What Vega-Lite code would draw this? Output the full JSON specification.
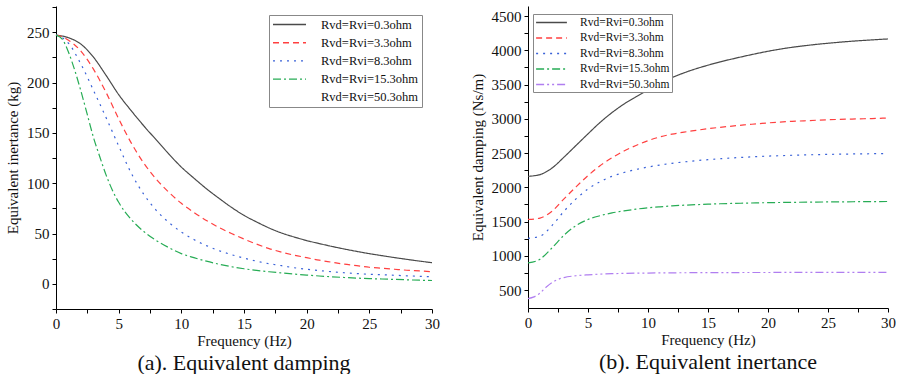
{
  "$schema": "https://vega.github.io/schema/vega-lite/v6.json",
  "padding": {"left": 5, "top": 6, "right": 0, "bottom": 0},
  "background": "white",
  "config": {
    "view": {"stroke": null},
    "font": "Times New Roman",
    "title": {"font": "Times New Roman", "fontWeight": "normal", "color": "#111"}
  },
  "spacing": 30,
  "resolve": {
    "scale": {"x": "independent", "y": "independent", "color": "independent", "strokeDash": "independent"},
    "legend": {"color": "independent", "strokeDash": "independent"}
  },
  "datasets": {
    "inertance": [
      {"f": 0, "v": 247, "s": "Rvd=Rvi=0.3ohm"},
      {"f": 1, "v": 244.5, "s": "Rvd=Rvi=0.3ohm"},
      {"f": 2, "v": 238, "s": "Rvd=Rvi=0.3ohm"},
      {"f": 3, "v": 225, "s": "Rvd=Rvi=0.3ohm"},
      {"f": 4, "v": 207, "s": "Rvd=Rvi=0.3ohm"},
      {"f": 5, "v": 188, "s": "Rvd=Rvi=0.3ohm"},
      {"f": 6, "v": 172, "s": "Rvd=Rvi=0.3ohm"},
      {"f": 7, "v": 157, "s": "Rvd=Rvi=0.3ohm"},
      {"f": 8, "v": 143, "s": "Rvd=Rvi=0.3ohm"},
      {"f": 9, "v": 129, "s": "Rvd=Rvi=0.3ohm"},
      {"f": 10, "v": 116, "s": "Rvd=Rvi=0.3ohm"},
      {"f": 11, "v": 105, "s": "Rvd=Rvi=0.3ohm"},
      {"f": 12, "v": 94.5, "s": "Rvd=Rvi=0.3ohm"},
      {"f": 13, "v": 85, "s": "Rvd=Rvi=0.3ohm"},
      {"f": 14, "v": 76, "s": "Rvd=Rvi=0.3ohm"},
      {"f": 15, "v": 68, "s": "Rvd=Rvi=0.3ohm"},
      {"f": 16, "v": 61.5, "s": "Rvd=Rvi=0.3ohm"},
      {"f": 17, "v": 55.5, "s": "Rvd=Rvi=0.3ohm"},
      {"f": 18, "v": 50.5, "s": "Rvd=Rvi=0.3ohm"},
      {"f": 19, "v": 46.5, "s": "Rvd=Rvi=0.3ohm"},
      {"f": 20, "v": 43, "s": "Rvd=Rvi=0.3ohm"},
      {"f": 21, "v": 40, "s": "Rvd=Rvi=0.3ohm"},
      {"f": 22, "v": 37.2, "s": "Rvd=Rvi=0.3ohm"},
      {"f": 23, "v": 34.6, "s": "Rvd=Rvi=0.3ohm"},
      {"f": 24, "v": 32.2, "s": "Rvd=Rvi=0.3ohm"},
      {"f": 25, "v": 30, "s": "Rvd=Rvi=0.3ohm"},
      {"f": 26, "v": 28, "s": "Rvd=Rvi=0.3ohm"},
      {"f": 27, "v": 26.1, "s": "Rvd=Rvi=0.3ohm"},
      {"f": 28, "v": 24.3, "s": "Rvd=Rvi=0.3ohm"},
      {"f": 29, "v": 22.6, "s": "Rvd=Rvi=0.3ohm"},
      {"f": 30, "v": 21, "s": "Rvd=Rvi=0.3ohm"},

      {"f": 0, "v": 247, "s": "Rvd=Rvi=3.3ohm"},
      {"f": 0.5, "v": 245.5, "s": "Rvd=Rvi=3.3ohm"},
      {"f": 1, "v": 242, "s": "Rvd=Rvi=3.3ohm"},
      {"f": 2, "v": 231, "s": "Rvd=Rvi=3.3ohm"},
      {"f": 3, "v": 213, "s": "Rvd=Rvi=3.3ohm"},
      {"f": 4, "v": 190, "s": "Rvd=Rvi=3.3ohm"},
      {"f": 5, "v": 164, "s": "Rvd=Rvi=3.3ohm"},
      {"f": 6, "v": 140, "s": "Rvd=Rvi=3.3ohm"},
      {"f": 7, "v": 120, "s": "Rvd=Rvi=3.3ohm"},
      {"f": 8, "v": 104, "s": "Rvd=Rvi=3.3ohm"},
      {"f": 9, "v": 91, "s": "Rvd=Rvi=3.3ohm"},
      {"f": 10, "v": 80, "s": "Rvd=Rvi=3.3ohm"},
      {"f": 11, "v": 71, "s": "Rvd=Rvi=3.3ohm"},
      {"f": 12, "v": 63, "s": "Rvd=Rvi=3.3ohm"},
      {"f": 13, "v": 56, "s": "Rvd=Rvi=3.3ohm"},
      {"f": 14, "v": 50, "s": "Rvd=Rvi=3.3ohm"},
      {"f": 15, "v": 44.5, "s": "Rvd=Rvi=3.3ohm"},
      {"f": 16, "v": 39.5, "s": "Rvd=Rvi=3.3ohm"},
      {"f": 17, "v": 35, "s": "Rvd=Rvi=3.3ohm"},
      {"f": 18, "v": 31.5, "s": "Rvd=Rvi=3.3ohm"},
      {"f": 19, "v": 28.5, "s": "Rvd=Rvi=3.3ohm"},
      {"f": 20, "v": 26, "s": "Rvd=Rvi=3.3ohm"},
      {"f": 21, "v": 23.5, "s": "Rvd=Rvi=3.3ohm"},
      {"f": 22, "v": 21.5, "s": "Rvd=Rvi=3.3ohm"},
      {"f": 23, "v": 19.5, "s": "Rvd=Rvi=3.3ohm"},
      {"f": 24, "v": 18, "s": "Rvd=Rvi=3.3ohm"},
      {"f": 25, "v": 16.5, "s": "Rvd=Rvi=3.3ohm"},
      {"f": 26, "v": 15.5, "s": "Rvd=Rvi=3.3ohm"},
      {"f": 27, "v": 14.5, "s": "Rvd=Rvi=3.3ohm"},
      {"f": 28, "v": 13.5, "s": "Rvd=Rvi=3.3ohm"},
      {"f": 29, "v": 12.8, "s": "Rvd=Rvi=3.3ohm"},
      {"f": 30, "v": 12, "s": "Rvd=Rvi=3.3ohm"},

      {"f": 0, "v": 247, "s": "Rvd=Rvi=8.3ohm"},
      {"f": 0.5, "v": 244.5, "s": "Rvd=Rvi=8.3ohm"},
      {"f": 1, "v": 239, "s": "Rvd=Rvi=8.3ohm"},
      {"f": 2, "v": 218, "s": "Rvd=Rvi=8.3ohm"},
      {"f": 3, "v": 192, "s": "Rvd=Rvi=8.3ohm"},
      {"f": 4, "v": 165, "s": "Rvd=Rvi=8.3ohm"},
      {"f": 5, "v": 137, "s": "Rvd=Rvi=8.3ohm"},
      {"f": 6, "v": 110, "s": "Rvd=Rvi=8.3ohm"},
      {"f": 7, "v": 89, "s": "Rvd=Rvi=8.3ohm"},
      {"f": 8, "v": 73, "s": "Rvd=Rvi=8.3ohm"},
      {"f": 9, "v": 61, "s": "Rvd=Rvi=8.3ohm"},
      {"f": 10, "v": 51.5, "s": "Rvd=Rvi=8.3ohm"},
      {"f": 11, "v": 44, "s": "Rvd=Rvi=8.3ohm"},
      {"f": 12, "v": 38, "s": "Rvd=Rvi=8.3ohm"},
      {"f": 13, "v": 33, "s": "Rvd=Rvi=8.3ohm"},
      {"f": 14, "v": 29, "s": "Rvd=Rvi=8.3ohm"},
      {"f": 15, "v": 25.5, "s": "Rvd=Rvi=8.3ohm"},
      {"f": 16, "v": 22.5, "s": "Rvd=Rvi=8.3ohm"},
      {"f": 17, "v": 20, "s": "Rvd=Rvi=8.3ohm"},
      {"f": 18, "v": 18, "s": "Rvd=Rvi=8.3ohm"},
      {"f": 19, "v": 16, "s": "Rvd=Rvi=8.3ohm"},
      {"f": 20, "v": 14.5, "s": "Rvd=Rvi=8.3ohm"},
      {"f": 21, "v": 13.2, "s": "Rvd=Rvi=8.3ohm"},
      {"f": 22, "v": 12, "s": "Rvd=Rvi=8.3ohm"},
      {"f": 23, "v": 11, "s": "Rvd=Rvi=8.3ohm"},
      {"f": 24, "v": 10.2, "s": "Rvd=Rvi=8.3ohm"},
      {"f": 25, "v": 9.5, "s": "Rvd=Rvi=8.3ohm"},
      {"f": 26, "v": 9, "s": "Rvd=Rvi=8.3ohm"},
      {"f": 27, "v": 8.5, "s": "Rvd=Rvi=8.3ohm"},
      {"f": 28, "v": 8, "s": "Rvd=Rvi=8.3ohm"},
      {"f": 29, "v": 7.5, "s": "Rvd=Rvi=8.3ohm"},
      {"f": 30, "v": 7, "s": "Rvd=Rvi=8.3ohm"},

      {"f": 0, "v": 247, "s": "Rvd=Rvi=15.3ohm"},
      {"f": 0.5, "v": 243, "s": "Rvd=Rvi=15.3ohm"},
      {"f": 1, "v": 230, "s": "Rvd=Rvi=15.3ohm"},
      {"f": 1.5, "v": 212, "s": "Rvd=Rvi=15.3ohm"},
      {"f": 2, "v": 191, "s": "Rvd=Rvi=15.3ohm"},
      {"f": 2.5, "v": 168, "s": "Rvd=Rvi=15.3ohm"},
      {"f": 3, "v": 145, "s": "Rvd=Rvi=15.3ohm"},
      {"f": 3.5, "v": 126, "s": "Rvd=Rvi=15.3ohm"},
      {"f": 4, "v": 108, "s": "Rvd=Rvi=15.3ohm"},
      {"f": 4.5, "v": 93, "s": "Rvd=Rvi=15.3ohm"},
      {"f": 5, "v": 81, "s": "Rvd=Rvi=15.3ohm"},
      {"f": 6, "v": 64, "s": "Rvd=Rvi=15.3ohm"},
      {"f": 7, "v": 52, "s": "Rvd=Rvi=15.3ohm"},
      {"f": 8, "v": 43, "s": "Rvd=Rvi=15.3ohm"},
      {"f": 9, "v": 36, "s": "Rvd=Rvi=15.3ohm"},
      {"f": 10, "v": 30, "s": "Rvd=Rvi=15.3ohm"},
      {"f": 11, "v": 26, "s": "Rvd=Rvi=15.3ohm"},
      {"f": 12, "v": 22.5, "s": "Rvd=Rvi=15.3ohm"},
      {"f": 13, "v": 19.5, "s": "Rvd=Rvi=15.3ohm"},
      {"f": 14, "v": 17, "s": "Rvd=Rvi=15.3ohm"},
      {"f": 15, "v": 15, "s": "Rvd=Rvi=15.3ohm"},
      {"f": 16, "v": 13.3, "s": "Rvd=Rvi=15.3ohm"},
      {"f": 17, "v": 12, "s": "Rvd=Rvi=15.3ohm"},
      {"f": 18, "v": 10.8, "s": "Rvd=Rvi=15.3ohm"},
      {"f": 19, "v": 9.7, "s": "Rvd=Rvi=15.3ohm"},
      {"f": 20, "v": 8.7, "s": "Rvd=Rvi=15.3ohm"},
      {"f": 21, "v": 7.8, "s": "Rvd=Rvi=15.3ohm"},
      {"f": 22, "v": 7, "s": "Rvd=Rvi=15.3ohm"},
      {"f": 23, "v": 6.3, "s": "Rvd=Rvi=15.3ohm"},
      {"f": 24, "v": 5.7, "s": "Rvd=Rvi=15.3ohm"},
      {"f": 25, "v": 5.2, "s": "Rvd=Rvi=15.3ohm"},
      {"f": 26, "v": 4.8, "s": "Rvd=Rvi=15.3ohm"},
      {"f": 27, "v": 4.4, "s": "Rvd=Rvi=15.3ohm"},
      {"f": 28, "v": 4, "s": "Rvd=Rvi=15.3ohm"},
      {"f": 29, "v": 3.6, "s": "Rvd=Rvi=15.3ohm"},
      {"f": 30, "v": 3.3, "s": "Rvd=Rvi=15.3ohm"}
    ],
    "damping": [
      {"f": 0, "v": 2160, "s": "Rvd=Rvi=0.3ohm"},
      {"f": 1, "v": 2185, "s": "Rvd=Rvi=0.3ohm"},
      {"f": 2, "v": 2280, "s": "Rvd=Rvi=0.3ohm"},
      {"f": 3, "v": 2440, "s": "Rvd=Rvi=0.3ohm"},
      {"f": 4, "v": 2610, "s": "Rvd=Rvi=0.3ohm"},
      {"f": 5, "v": 2780, "s": "Rvd=Rvi=0.3ohm"},
      {"f": 6, "v": 2945, "s": "Rvd=Rvi=0.3ohm"},
      {"f": 7, "v": 3090, "s": "Rvd=Rvi=0.3ohm"},
      {"f": 8, "v": 3215, "s": "Rvd=Rvi=0.3ohm"},
      {"f": 9, "v": 3320, "s": "Rvd=Rvi=0.3ohm"},
      {"f": 10, "v": 3420, "s": "Rvd=Rvi=0.3ohm"},
      {"f": 11, "v": 3515, "s": "Rvd=Rvi=0.3ohm"},
      {"f": 12, "v": 3600, "s": "Rvd=Rvi=0.3ohm"},
      {"f": 13, "v": 3670, "s": "Rvd=Rvi=0.3ohm"},
      {"f": 14, "v": 3730, "s": "Rvd=Rvi=0.3ohm"},
      {"f": 15, "v": 3782, "s": "Rvd=Rvi=0.3ohm"},
      {"f": 16, "v": 3830, "s": "Rvd=Rvi=0.3ohm"},
      {"f": 17, "v": 3872, "s": "Rvd=Rvi=0.3ohm"},
      {"f": 18, "v": 3912, "s": "Rvd=Rvi=0.3ohm"},
      {"f": 19, "v": 3950, "s": "Rvd=Rvi=0.3ohm"},
      {"f": 20, "v": 3985, "s": "Rvd=Rvi=0.3ohm"},
      {"f": 21, "v": 4016, "s": "Rvd=Rvi=0.3ohm"},
      {"f": 22, "v": 4043, "s": "Rvd=Rvi=0.3ohm"},
      {"f": 23, "v": 4065, "s": "Rvd=Rvi=0.3ohm"},
      {"f": 24, "v": 4085, "s": "Rvd=Rvi=0.3ohm"},
      {"f": 25, "v": 4102, "s": "Rvd=Rvi=0.3ohm"},
      {"f": 26, "v": 4118, "s": "Rvd=Rvi=0.3ohm"},
      {"f": 27, "v": 4132, "s": "Rvd=Rvi=0.3ohm"},
      {"f": 28, "v": 4144, "s": "Rvd=Rvi=0.3ohm"},
      {"f": 29, "v": 4155, "s": "Rvd=Rvi=0.3ohm"},
      {"f": 30, "v": 4165, "s": "Rvd=Rvi=0.3ohm"},

      {"f": 0, "v": 1530, "s": "Rvd=Rvi=3.3ohm"},
      {"f": 1, "v": 1550, "s": "Rvd=Rvi=3.3ohm"},
      {"f": 2, "v": 1650, "s": "Rvd=Rvi=3.3ohm"},
      {"f": 3, "v": 1830, "s": "Rvd=Rvi=3.3ohm"},
      {"f": 4, "v": 2005, "s": "Rvd=Rvi=3.3ohm"},
      {"f": 5, "v": 2170, "s": "Rvd=Rvi=3.3ohm"},
      {"f": 6, "v": 2315, "s": "Rvd=Rvi=3.3ohm"},
      {"f": 7, "v": 2430, "s": "Rvd=Rvi=3.3ohm"},
      {"f": 8, "v": 2530, "s": "Rvd=Rvi=3.3ohm"},
      {"f": 9, "v": 2610, "s": "Rvd=Rvi=3.3ohm"},
      {"f": 10, "v": 2680, "s": "Rvd=Rvi=3.3ohm"},
      {"f": 11, "v": 2735, "s": "Rvd=Rvi=3.3ohm"},
      {"f": 12, "v": 2775, "s": "Rvd=Rvi=3.3ohm"},
      {"f": 13, "v": 2805, "s": "Rvd=Rvi=3.3ohm"},
      {"f": 14, "v": 2830, "s": "Rvd=Rvi=3.3ohm"},
      {"f": 15, "v": 2855, "s": "Rvd=Rvi=3.3ohm"},
      {"f": 16, "v": 2875, "s": "Rvd=Rvi=3.3ohm"},
      {"f": 17, "v": 2893, "s": "Rvd=Rvi=3.3ohm"},
      {"f": 18, "v": 2910, "s": "Rvd=Rvi=3.3ohm"},
      {"f": 19, "v": 2925, "s": "Rvd=Rvi=3.3ohm"},
      {"f": 20, "v": 2940, "s": "Rvd=Rvi=3.3ohm"},
      {"f": 21, "v": 2952, "s": "Rvd=Rvi=3.3ohm"},
      {"f": 22, "v": 2962, "s": "Rvd=Rvi=3.3ohm"},
      {"f": 23, "v": 2970, "s": "Rvd=Rvi=3.3ohm"},
      {"f": 24, "v": 2978, "s": "Rvd=Rvi=3.3ohm"},
      {"f": 25, "v": 2985, "s": "Rvd=Rvi=3.3ohm"},
      {"f": 26, "v": 2991, "s": "Rvd=Rvi=3.3ohm"},
      {"f": 27, "v": 2996, "s": "Rvd=Rvi=3.3ohm"},
      {"f": 28, "v": 3000, "s": "Rvd=Rvi=3.3ohm"},
      {"f": 29, "v": 3005, "s": "Rvd=Rvi=3.3ohm"},
      {"f": 30, "v": 3010, "s": "Rvd=Rvi=3.3ohm"},

      {"f": 0, "v": 1255, "s": "Rvd=Rvi=8.3ohm"},
      {"f": 1, "v": 1285, "s": "Rvd=Rvi=8.3ohm"},
      {"f": 2, "v": 1440, "s": "Rvd=Rvi=8.3ohm"},
      {"f": 3, "v": 1650, "s": "Rvd=Rvi=8.3ohm"},
      {"f": 4, "v": 1830, "s": "Rvd=Rvi=8.3ohm"},
      {"f": 5, "v": 1975, "s": "Rvd=Rvi=8.3ohm"},
      {"f": 6, "v": 2080, "s": "Rvd=Rvi=8.3ohm"},
      {"f": 7, "v": 2160, "s": "Rvd=Rvi=8.3ohm"},
      {"f": 8, "v": 2215, "s": "Rvd=Rvi=8.3ohm"},
      {"f": 9, "v": 2260, "s": "Rvd=Rvi=8.3ohm"},
      {"f": 10, "v": 2295, "s": "Rvd=Rvi=8.3ohm"},
      {"f": 11, "v": 2325, "s": "Rvd=Rvi=8.3ohm"},
      {"f": 12, "v": 2350, "s": "Rvd=Rvi=8.3ohm"},
      {"f": 13, "v": 2370, "s": "Rvd=Rvi=8.3ohm"},
      {"f": 14, "v": 2388, "s": "Rvd=Rvi=8.3ohm"},
      {"f": 15, "v": 2403, "s": "Rvd=Rvi=8.3ohm"},
      {"f": 16, "v": 2416, "s": "Rvd=Rvi=8.3ohm"},
      {"f": 17, "v": 2428, "s": "Rvd=Rvi=8.3ohm"},
      {"f": 18, "v": 2438, "s": "Rvd=Rvi=8.3ohm"},
      {"f": 19, "v": 2447, "s": "Rvd=Rvi=8.3ohm"},
      {"f": 20, "v": 2455, "s": "Rvd=Rvi=8.3ohm"},
      {"f": 21, "v": 2461, "s": "Rvd=Rvi=8.3ohm"},
      {"f": 22, "v": 2467, "s": "Rvd=Rvi=8.3ohm"},
      {"f": 23, "v": 2472, "s": "Rvd=Rvi=8.3ohm"},
      {"f": 24, "v": 2476, "s": "Rvd=Rvi=8.3ohm"},
      {"f": 25, "v": 2480, "s": "Rvd=Rvi=8.3ohm"},
      {"f": 26, "v": 2483, "s": "Rvd=Rvi=8.3ohm"},
      {"f": 27, "v": 2486, "s": "Rvd=Rvi=8.3ohm"},
      {"f": 28, "v": 2488, "s": "Rvd=Rvi=8.3ohm"},
      {"f": 29, "v": 2490, "s": "Rvd=Rvi=8.3ohm"},
      {"f": 30, "v": 2492, "s": "Rvd=Rvi=8.3ohm"},

      {"f": 0, "v": 895, "s": "Rvd=Rvi=15.3ohm"},
      {"f": 1, "v": 950, "s": "Rvd=Rvi=15.3ohm"},
      {"f": 2, "v": 1115, "s": "Rvd=Rvi=15.3ohm"},
      {"f": 3, "v": 1300, "s": "Rvd=Rvi=15.3ohm"},
      {"f": 4, "v": 1440, "s": "Rvd=Rvi=15.3ohm"},
      {"f": 5, "v": 1530, "s": "Rvd=Rvi=15.3ohm"},
      {"f": 6, "v": 1585, "s": "Rvd=Rvi=15.3ohm"},
      {"f": 7, "v": 1625, "s": "Rvd=Rvi=15.3ohm"},
      {"f": 8, "v": 1655, "s": "Rvd=Rvi=15.3ohm"},
      {"f": 9, "v": 1680, "s": "Rvd=Rvi=15.3ohm"},
      {"f": 10, "v": 1700, "s": "Rvd=Rvi=15.3ohm"},
      {"f": 11, "v": 1715, "s": "Rvd=Rvi=15.3ohm"},
      {"f": 12, "v": 1728, "s": "Rvd=Rvi=15.3ohm"},
      {"f": 13, "v": 1738, "s": "Rvd=Rvi=15.3ohm"},
      {"f": 14, "v": 1746, "s": "Rvd=Rvi=15.3ohm"},
      {"f": 15, "v": 1753, "s": "Rvd=Rvi=15.3ohm"},
      {"f": 16, "v": 1759, "s": "Rvd=Rvi=15.3ohm"},
      {"f": 17, "v": 1764, "s": "Rvd=Rvi=15.3ohm"},
      {"f": 18, "v": 1768, "s": "Rvd=Rvi=15.3ohm"},
      {"f": 19, "v": 1772, "s": "Rvd=Rvi=15.3ohm"},
      {"f": 20, "v": 1775, "s": "Rvd=Rvi=15.3ohm"},
      {"f": 22, "v": 1780, "s": "Rvd=Rvi=15.3ohm"},
      {"f": 24, "v": 1784, "s": "Rvd=Rvi=15.3ohm"},
      {"f": 26, "v": 1787, "s": "Rvd=Rvi=15.3ohm"},
      {"f": 28, "v": 1790, "s": "Rvd=Rvi=15.3ohm"},
      {"f": 30, "v": 1792, "s": "Rvd=Rvi=15.3ohm"},

      {"f": 0, "v": 375, "s": "Rvd=Rvi=50.3ohm"},
      {"f": 0.5, "v": 400, "s": "Rvd=Rvi=50.3ohm"},
      {"f": 1, "v": 455, "s": "Rvd=Rvi=50.3ohm"},
      {"f": 1.5, "v": 540, "s": "Rvd=Rvi=50.3ohm"},
      {"f": 2, "v": 610, "s": "Rvd=Rvi=50.3ohm"},
      {"f": 2.5, "v": 655, "s": "Rvd=Rvi=50.3ohm"},
      {"f": 3, "v": 682, "s": "Rvd=Rvi=50.3ohm"},
      {"f": 4, "v": 708, "s": "Rvd=Rvi=50.3ohm"},
      {"f": 5, "v": 722, "s": "Rvd=Rvi=50.3ohm"},
      {"f": 6, "v": 732, "s": "Rvd=Rvi=50.3ohm"},
      {"f": 7, "v": 739, "s": "Rvd=Rvi=50.3ohm"},
      {"f": 8, "v": 743, "s": "Rvd=Rvi=50.3ohm"},
      {"f": 10, "v": 748, "s": "Rvd=Rvi=50.3ohm"},
      {"f": 12, "v": 751, "s": "Rvd=Rvi=50.3ohm"},
      {"f": 15, "v": 754, "s": "Rvd=Rvi=50.3ohm"},
      {"f": 20, "v": 756, "s": "Rvd=Rvi=50.3ohm"},
      {"f": 25, "v": 757, "s": "Rvd=Rvi=50.3ohm"},
      {"f": 30, "v": 758, "s": "Rvd=Rvi=50.3ohm"}
    ]
  },
  "hconcat": [
    {
      "width": 376,
      "height": 303,
      "data": {"name": "inertance"},
      "title": {"text": "(a). Equivalent damping", "orient": "bottom", "fontSize": 22, "anchor": "middle", "offset": 5, "font": "Times New Roman", "fontWeight": "normal", "color": "#111"},
      "mark": {"type": "line", "strokeWidth": 1.2, "interpolate": "monotone"},
      "encoding": {
        "x": {
          "field": "f", "type": "quantitative",
          "scale": {"domain": [0, 30], "nice": false, "zero": false},
          "axis": {"title": "Frequency (Hz)", "values": [0, 2.5, 5, 7.5, 10, 12.5, 15, 17.5, 20, 22.5, 25, 27.5, 30],
                   "labelExpr": "datum.value % 5 === 0 ? datum.label : ''", "labelPadding": 3, "titlePadding": 2, "labelFlush": false,
                   "grid": false, "domainColor": "#000", "tickColor": "#000", "tickSize": 4,
                   "labelFont": "Times New Roman", "labelFontSize": 15, "labelColor": "#111",
                   "titleFont": "Times New Roman", "titleFontSize": 15, "titleFontWeight": "normal", "titleColor": "#111"}
        },
        "y": {
          "field": "v", "type": "quantitative",
          "scale": {"domain": [-25, 276], "nice": false, "zero": false},
          "axis": {"title": "Equivalent inertance (kg)", "values": [-25, 0, 25, 50, 75, 100, 125, 150, 175, 200, 225, 250, 275],
                   "labelExpr": "datum.value % 50 === 0 ? datum.label : ''", "labelPadding": 3, "titlePadding": 6,
                   "grid": false, "domainColor": "#000", "tickColor": "#000", "tickSize": 4,
                   "labelFont": "Times New Roman", "labelFontSize": 15, "labelColor": "#111",
                   "titleFont": "Times New Roman", "titleFontSize": 15, "titleFontWeight": "normal", "titleColor": "#111"}
        },
        "color": {
          "field": "s", "type": "nominal",
          "scale": {"domain": ["Rvd=Rvi=0.3ohm", "Rvd=Rvi=3.3ohm", "Rvd=Rvi=8.3ohm", "Rvd=Rvi=15.3ohm", "Rvd=Rvi=50.3ohm"],
                    "range": ["#4a4a4a", "#ff4040", "#3a62d8", "#27ac55", "rgba(255,255,255,0)"]},
          "legend": {"title": null, "orient": "none", "legendX": 213, "legendY": 9,
                     "labelFont": "Times New Roman", "labelFontSize": 12.5, "labelColor": "#111",
                     "symbolType": "M-3,0H3", "symbolSize": 121, "symbolStrokeWidth": 1.4, "symbolOffset": 11,
                     "labelOffset": 25, "rowPadding": 5.2, "padding": 3,
                     "strokeColor": "#888", "fillColor": "white", "cornerRadius": 0}
        },
        "strokeDash": {
          "field": "s", "type": "nominal",
          "scale": {"domain": ["Rvd=Rvi=0.3ohm", "Rvd=Rvi=3.3ohm", "Rvd=Rvi=8.3ohm", "Rvd=Rvi=15.3ohm", "Rvd=Rvi=50.3ohm"],
                    "range": [[1, 0], [6, 4], [2, 5], [8, 3, 2, 3], [8, 3, 2, 3, 2, 3]]},
          "legend": {"title": null, "orient": "none", "legendX": 213, "legendY": 9,
                     "labelFont": "Times New Roman", "labelFontSize": 12.5, "labelColor": "#111",
                     "symbolType": "M-3,0H3", "symbolSize": 121, "symbolStrokeWidth": 1.4, "symbolOffset": 11,
                     "labelOffset": 25, "rowPadding": 5.2, "padding": 3,
                     "strokeColor": "#888", "fillColor": "white", "cornerRadius": 0}
        }
      }
    },
    {
      "width": 360,
      "height": 302,
      "data": {"name": "damping"},
      "title": {"text": "(b). Equivalent inertance", "orient": "bottom", "fontSize": 22, "anchor": "middle", "offset": 5, "font": "Times New Roman", "fontWeight": "normal", "color": "#111"},
      "mark": {"type": "line", "strokeWidth": 1.2, "interpolate": "monotone"},
      "encoding": {
        "x": {
          "field": "f", "type": "quantitative",
          "scale": {"domain": [0, 30], "nice": false, "zero": false},
          "axis": {"title": "Frequency (Hz)", "values": [0, 2.5, 5, 7.5, 10, 12.5, 15, 17.5, 20, 22.5, 25, 27.5, 30],
                   "labelExpr": "datum.value % 5 === 0 ? datum.label : ''", "labelPadding": 3, "titlePadding": 2, "labelFlush": false,
                   "grid": false, "domainColor": "#000", "tickColor": "#000", "tickSize": 4,
                   "labelFont": "Times New Roman", "labelFontSize": 15, "labelColor": "#111",
                   "titleFont": "Times New Roman", "titleFontSize": 15, "titleFontWeight": "normal", "titleColor": "#111"}
        },
        "y": {
          "field": "v", "type": "quantitative",
          "scale": {"domain": [237.5, 4646], "nice": false, "zero": false},
          "axis": {"title": "Equivalent damping (Ns/m)", "values": [500, 750, 1000, 1250, 1500, 1750, 2000, 2250, 2500, 2750, 3000, 3250, 3500, 3750, 4000, 4250, 4500],
                   "labelExpr": "datum.value % 500 === 0 ? format(datum.value, 'd') : ''", "labelPadding": 3, "titlePadding": 6,
                   "grid": false, "domainColor": "#000", "tickColor": "#000", "tickSize": 4,
                   "labelFont": "Times New Roman", "labelFontSize": 15, "labelColor": "#111",
                   "titleFont": "Times New Roman", "titleFontSize": 15, "titleFontWeight": "normal", "titleColor": "#111"}
        },
        "color": {
          "field": "s", "type": "nominal",
          "scale": {"domain": ["Rvd=Rvi=0.3ohm", "Rvd=Rvi=3.3ohm", "Rvd=Rvi=8.3ohm", "Rvd=Rvi=15.3ohm", "Rvd=Rvi=50.3ohm"],
                    "range": ["#4a4a4a", "#ff4040", "#3a62d8", "#27ac55", "#b07ef0"]},
          "legend": {"title": null, "orient": "none", "legendX": 5, "legendY": 8,
                     "labelFont": "Times New Roman", "labelFontSize": 11.5, "labelColor": "#111",
                     "symbolType": "M-2.8,0H2.8", "symbolSize": 121, "symbolStrokeWidth": 1.4, "symbolOffset": 10,
                     "labelOffset": 22, "rowPadding": 3.5, "padding": 2,
                     "strokeColor": "#888", "fillColor": "white", "cornerRadius": 0}
        },
        "strokeDash": {
          "field": "s", "type": "nominal",
          "scale": {"domain": ["Rvd=Rvi=0.3ohm", "Rvd=Rvi=3.3ohm", "Rvd=Rvi=8.3ohm", "Rvd=Rvi=15.3ohm", "Rvd=Rvi=50.3ohm"],
                    "range": [[1, 0], [6, 4], [2, 5], [8, 3, 2, 3], [8, 3, 2, 3, 2, 3]]},
          "legend": {"title": null, "orient": "none", "legendX": 5, "legendY": 8,
                     "labelFont": "Times New Roman", "labelFontSize": 11.5, "labelColor": "#111",
                     "symbolType": "M-2.8,0H2.8", "symbolSize": 121, "symbolStrokeWidth": 1.4, "symbolOffset": 10,
                     "labelOffset": 22, "rowPadding": 3.5, "padding": 2,
                     "strokeColor": "#888", "fillColor": "white", "cornerRadius": 0}
        }
      }
    }
  ]
}
